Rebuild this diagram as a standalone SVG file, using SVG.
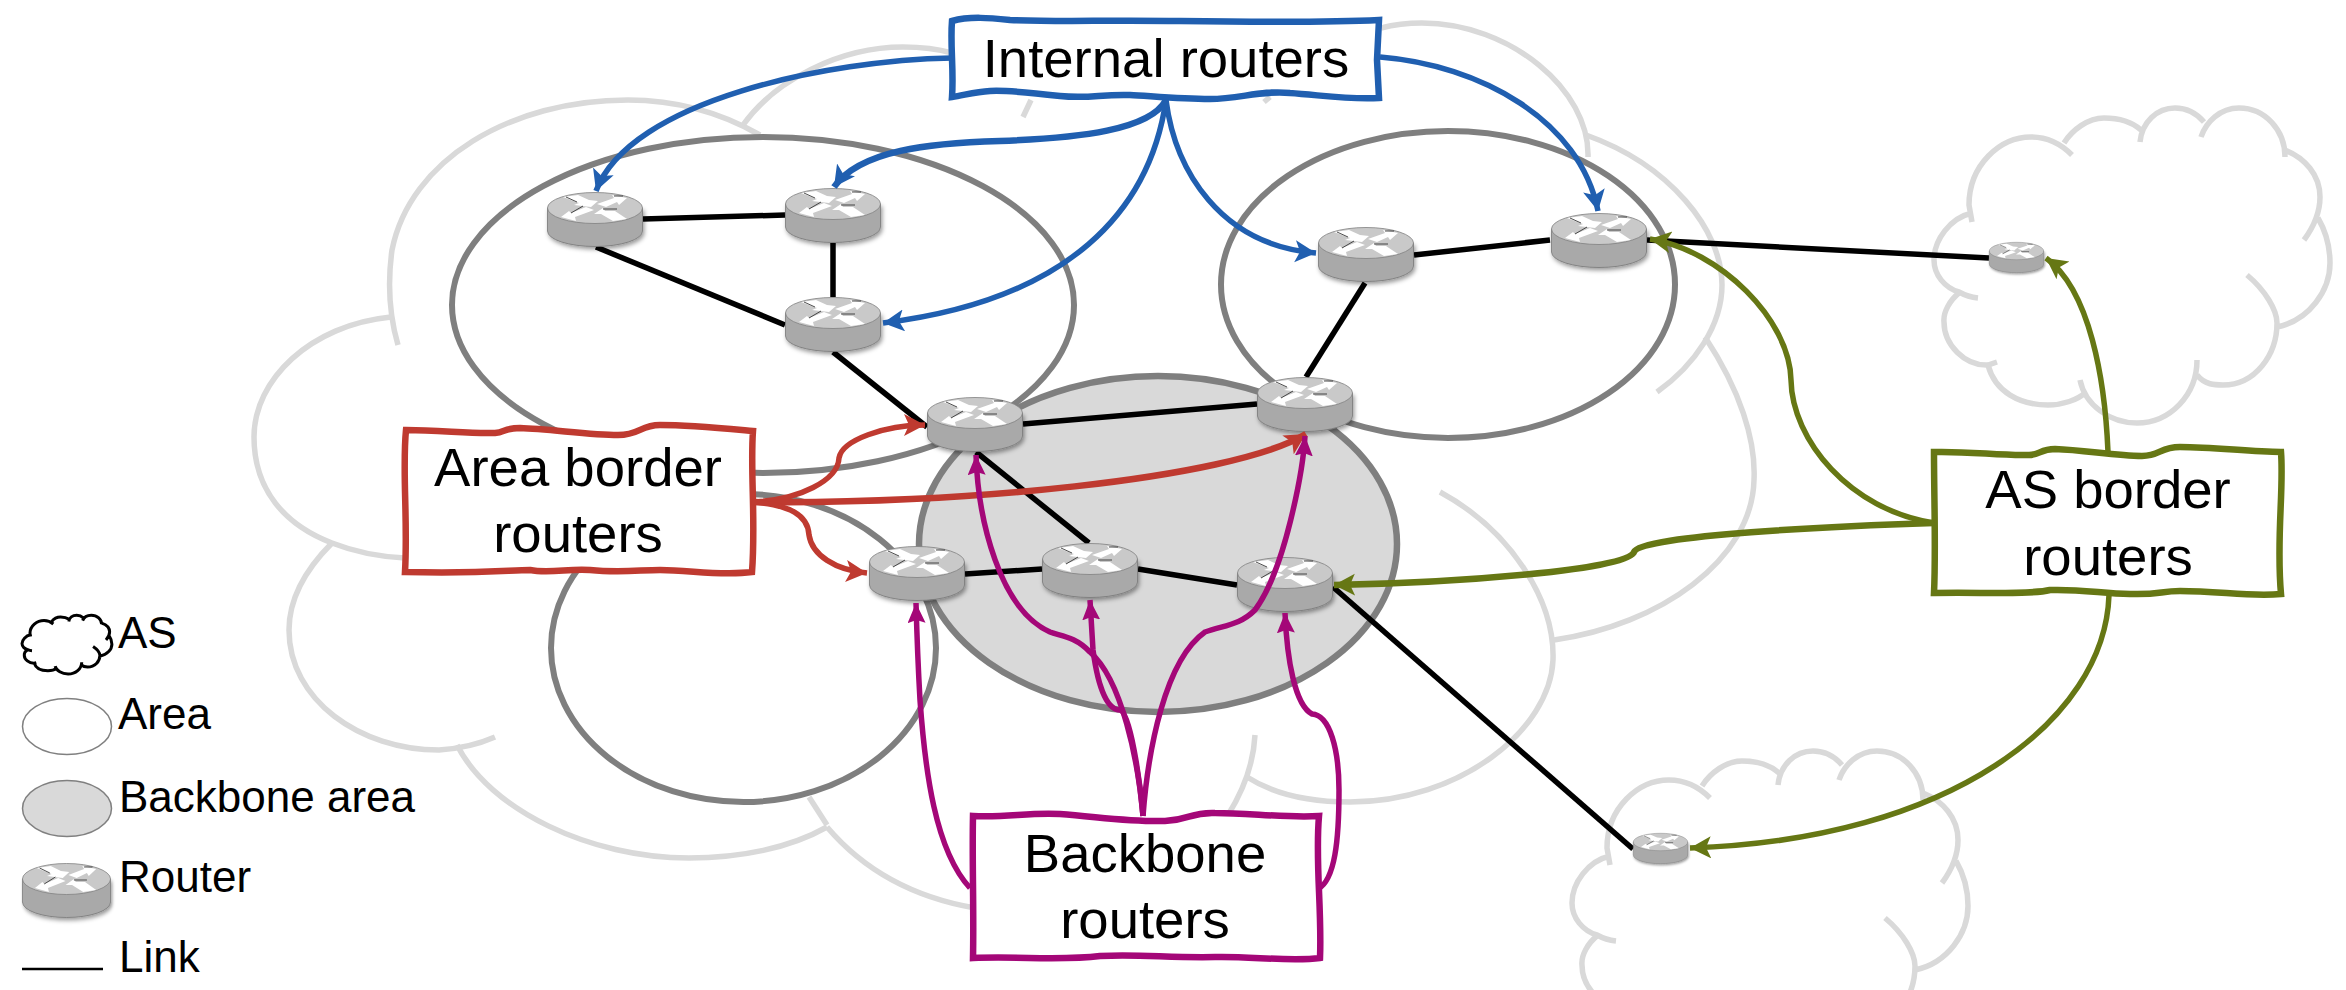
<svg xmlns="http://www.w3.org/2000/svg" width="2346" height="990" viewBox="0 0 2346 990">
<style>
text{font-family:"Liberation Sans",Arial,sans-serif;fill:#000}
.big{font-size:54.500px;text-anchor:middle}
.leg{font-size:44px}
.cl{fill:none;stroke:#d9d9d9;stroke-width:5.5}
.area{fill:none;stroke:#7f7f7f;stroke-width:6}
.bb{fill:#d9d9d9;stroke:#7f7f7f;stroke-width:6.5}
.lk{fill:none;stroke:#000;stroke-width:5.5;stroke-linecap:butt}
.box{fill:#fff;stroke-width:6.5;stroke-linejoin:miter}
.c{fill:none;stroke-width:5.5;stroke-linecap:butt}
.blue{stroke:#205fb0}.red{stroke:#bf3a30}.pur{stroke:#a40778}.oli{stroke:#667714}
</style>
<defs>
<filter id="sh" x="-15%" y="-15%" width="130%" height="140%"><feDropShadow dx="1.5" dy="2.5" stdDeviation="2" flood-color="#000" flood-opacity=".4"/></filter>
<marker id="mb" markerUnits="userSpaceOnUse" markerWidth="24" markerHeight="24" refX="21" refY="11" orient="auto"><path d="M0 0L21 11L0 22L5 11Z" fill="#205fb0"/></marker>
<marker id="mr" markerUnits="userSpaceOnUse" markerWidth="24" markerHeight="24" refX="21" refY="11" orient="auto"><path d="M0 0L21 11L0 22L5 11Z" fill="#bf3a30"/></marker>
<marker id="mp" markerUnits="userSpaceOnUse" markerWidth="24" markerHeight="24" refX="20" refY="9" orient="auto"><path d="M0 0L20 9L0 18L3 9Z" fill="#a40778"/></marker>
<marker id="mo" markerUnits="userSpaceOnUse" markerWidth="24" markerHeight="24" refX="21" refY="11" orient="auto"><path d="M0 0L21 11L0 22L5 11Z" fill="#667714"/></marker>
<symbol id="router" viewBox="0 0 96 55" preserveAspectRatio="none" overflow="visible">
<g filter="url(#sh)"><path d="M.5 16V39A47.5 15.5 0 0 0 95.5 39V16Z" fill="#a9a9a9" stroke="#777" stroke-width=".8"/></g>
<ellipse cx="48" cy="16" rx="47.5" ry="15.5" fill="#c9c9c9" stroke="#808080" stroke-width=".8"/>
<path d="M16 5L31 3L42 8L51 9L44 15L27 13L32 11ZM80 6L65 3L67 6L50 12L59 15L70 10L72 13ZM14 25L29 29L28 25L47 18L39 15L24 21L22 19ZM47 22L56 16L58 19L68 19L80 27L66 29L54 22Z" fill="#fff"/>
<path d="M19 5L30 10M67 4H76M24 21L36 14M56 17H70" fill="none" stroke="#222" stroke-width=".8"/>
</symbol>
<path id="cloud" vector-effect="non-scaling-stroke" d="M1972 213C1950 218 1934 240 1934 260C1934 275 1945 288 1959 292Q1968 297 1978 298M1960 292C1950 300 1943 312 1944 322C1944 345 1965 366 1988 365L1997 362M1988 365C1995 392 2020 405 2048 405C2062 405 2078 400 2086 392M2080 380C2085 405 2110 423 2137 423C2170 423 2197 395 2197 360M2197 375C2205 385 2215 385 2223 385C2255 385 2277 355 2277 323C2277 310 2265 290 2247 275M2277 327C2310 320 2330 290 2330 263C2330 245 2325 230 2318 218M2304 240C2315 225 2320 210 2320 197C2320 175 2305 158 2285 150M2285 157C2285 130 2265 108 2239 108C2220 108 2206 122 2201 137M2204 122C2198 115 2188 108 2175 108C2157 108 2142 122 2140 142M2141 130C2132 122 2118 118 2104 118C2088 118 2072 130 2064 143M2072 155C2060 143 2045 137 2031 137C2000 137 1969 165 1969 205L1972 222"/>
</defs>

<g id="as-main" class="cl">
<path d="M391 317C310 325 254 380 254 437C254 490 285 525 332 543Q365 556 405 558"/>
<path d="M398 345Q385 300 392 250C410 160 510 100 628 100C680 100 725 115 760 135"/>
<path d="M743 125C775 80 840 47 903 47C920 47 938 49 952 53"/>
<path d="M1023 117L1031 100M1264 102L1270 97"/>
<path d="M1381 28Q1400 23 1422 23C1510 23 1590 90 1588 157"/>
<path d="M1586 135C1670 165 1722 230 1722 285C1722 325 1695 365 1657 392"/>
<path d="M1705 337C1740 390 1756 440 1754 480C1752 560 1660 625 1554 640"/>
<path d="M1440 492C1510 530 1555 600 1553 660C1550 730 1460 802 1350 802C1310 802 1275 795 1247 777"/>
<path d="M1255 735Q1253 775 1228 815"/>
<path d="M809 797L827 825M827 827C855 860 900 895 975 908"/>
<path d="M457 745C490 810 590 858 689 858C740 858 790 848 827 827"/>
<path d="M495 737Q470 748 439 750C360 750 289 700 289 630C289 600 305 570 332 543"/>
</g>
<use id="as-right" href="#cloud" class="cl"/>
<use id="as-bottom" href="#cloud" class="cl" transform="translate(-362 643)"/>

<g id="area-1"><ellipse class="area" cx="763" cy="305" rx="311" ry="168"/></g>
<g id="area-2"><ellipse class="area" cx="1448" cy="284.500" rx="227" ry="153.500"/></g>
<g id="area-3"><ellipse class="area" cx="743.500" cy="648" rx="192.500" ry="154"/></g>
<g id="area-backbone"><ellipse class="bb" cx="1158" cy="544" rx="239" ry="168"/></g>

<g id="links" class="lk">
<path d="M643 219L785 215"/><path d="M596 247L785 325"/><path d="M833 243V297"/><path d="M833 352L927 427"/>
<path d="M1023 424L1257 404"/><path d="M1414 255L1550 240"/><path d="M1365 283L1306 377"/><path d="M1647 240L1989 258"/>
<path d="M976 452L1089 543"/><path d="M965 574L1042 569"/><path d="M1138 569L1237 585"/><path d="M1333 587L1633 849"/>
</g>

<g id="router-1"><use href="#router" x="547" y="192" width="96" height="55"/></g>
<g id="router-2"><use href="#router" x="785" y="188" width="96" height="55"/></g>
<g id="router-3"><use href="#router" x="785" y="297" width="96" height="55"/></g>
<g id="router-4"><use href="#router" x="927" y="397" width="96" height="55"/></g>
<g id="router-5"><use href="#router" x="1318" y="227" width="96" height="55"/></g>
<g id="router-6"><use href="#router" x="1551" y="213" width="96" height="55"/></g>
<g id="router-7"><use href="#router" x="1257" y="377" width="96" height="55"/></g>
<g id="router-8"><use href="#router" x="869" y="546" width="96" height="55"/></g>
<g id="router-9"><use href="#router" x="1042" y="543" width="96" height="55"/></g>
<g id="router-10"><use href="#router" x="1237" y="557" width="96" height="55"/></g>
<g id="router-11"><use href="#router" x="1989" y="242" width="55" height="31"/></g>
<g id="router-12"><use href="#router" x="1633" y="833" width="55" height="31"/></g>

<g id="box-internal"><path class="box blue" d="M952 21C970 16 990 18 1010 20C1060 22 1100 20 1180 21C1250 22 1320 23 1379 20L1377 60L1379 98C1350 100 1320 95 1290 93C1260 90 1240 99 1210 99C1180 99 1150 96 1130 95C1100 94 1090 99 1060 96C1035 93 1010 90 990 91C975 92 965 95 952 97C954 70 950 45 952 21Z"/><text class="big" x="1166" y="77">Internal routers</text></g>
<g id="box-area"><path class="box red" d="M406 430C440 430 470 434 495 433C505 432 505 428 520 428C550 429 590 435 618 435C640 435 640 425 660 425C690 425 720 428 753 431C750 470 756 520 752 572C720 576 690 570 660 570C640 570 620 573 590 570C570 568 550 574 530 570C510 570 480 574 405 572C408 520 402 470 406 430Z"/><text class="big" x="578" y="486">Area border</text><text class="big" x="578" y="552">routers</text></g>
<g id="box-backbone"><path class="box pur" d="M973 816C1005 818 1030 812 1060 814C1100 817 1130 822 1165 821C1190 820 1190 812 1215 813C1250 813 1285 818 1319 816C1315 860 1322 910 1320 958C1290 962 1250 956 1215 957C1170 958 1140 954 1100 956C1060 961 1020 956 973 958C974 910 972 860 973 816Z"/><text class="big" x="1145" y="872">Backbone</text><text class="big" x="1145" y="938">routers</text></g>
<g id="box-as"><path class="box oli" d="M1934 452C1970 451 2000 456 2029 455C2040 455 2040 449 2055 449C2085 450 2115 456 2142 456C2160 456 2160 447 2180 447C2215 447 2250 452 2281 452C2284 490 2276 540 2281 594C2250 597 2220 591 2180 591C2160 591 2160 595 2130 594C2100 593 2080 589 2050 590C2030 595 1980 592 1934 593C1936 550 1934 500 1934 452Z"/><text class="big" x="2108" y="508">AS border</text><text class="big" x="2108" y="575">routers</text></g>

<g id="connectors">
<g class="c blue">
<path marker-end="url(#mb)" d="M952 58C830 60 630 100 596 191"/>
<path marker-end="url(#mb)" stroke-width="6.500" d="M1166 100C1150 130 1080 138 1000 141C930 143 860 150 834 187"/>
<path marker-end="url(#mb)" d="M1166 100C1150 210 1070 300 883 323"/>
<path marker-end="url(#mb)" d="M1166 100C1175 170 1220 245 1316 253"/>
<path marker-end="url(#mb)" d="M1380 57C1480 65 1580 120 1598 211"/>
</g>
<g class="c red">
<path marker-end="url(#mr)" d="M752 502C800 500 838 480 839 458C842 440 885 425 925 425"/>
<path marker-end="url(#mr)" stroke-width="6.500" d="M752 502C950 505 1230 480 1306 434"/>
<path marker-end="url(#mr)" d="M752 502C790 505 808 515 809 535C812 555 835 570 867 573"/>
</g>
<g class="c pur">
<path marker-end="url(#mp)" d="M970 888C935 850 925 770 920 700C918 665 917 640 916 603"/>
<path marker-end="url(#mp)" d="M1143 816C1138 760 1122 680 1090 652C1075 636 1060 636 1050 632C1000 610 978 520 976 455"/>
<path marker-end="url(#mp)" d="M1143 816C1140 780 1130 712 1120 710C1105 710 1097 680 1093 650L1090 600"/>
<path marker-end="url(#mp)" d="M1143 816C1148 750 1165 660 1205 632C1225 625 1240 625 1255 610C1285 570 1303 470 1305 436"/>
<path marker-end="url(#mp)" d="M1318 889C1335 880 1339 840 1339 790C1339 750 1330 715 1312 714C1295 705 1287 660 1285 613"/>
</g>
<g class="c oli">
<path marker-end="url(#mo)" d="M1934 523C1850 510 1792 440 1791 380C1790 320 1720 250 1650 239"/>
<path marker-end="url(#mo)" stroke-width="6.500" d="M1934 523C1840 526 1640 535 1634 552C1630 570 1450 583 1334 585"/>
<path marker-end="url(#mo)" d="M2108 452C2105 380 2090 290 2046 258"/>
<path marker-end="url(#mo)" d="M2109 595C2105 720 1950 840 1690 848"/>
</g>
</g>

<g id="legend">
<g id="legend-as"><use href="#cloud" transform="translate(-417 595) scale(.227 .187)" fill="none" stroke="#000" stroke-width="3"/><text class="leg" x="118" y="648">AS</text></g>
<g id="legend-area"><ellipse cx="67" cy="726.500" rx="44.500" ry="28" fill="#fff" stroke="#808080" stroke-width="1.500"/><text class="leg" x="118" y="729">Area</text></g>
<g id="legend-backbone"><ellipse cx="67" cy="808.500" rx="44.500" ry="28" fill="#d9d9d9" stroke="#808080" stroke-width="1.500"/><text class="leg" x="119" y="812">Backbone area</text></g>
<g id="legend-router"><use href="#router" x="22" y="863" width="89" height="55"/><text class="leg" x="119" y="892">Router</text></g>
<g id="legend-link"><path d="M22 969H103" stroke="#000" stroke-width="2.500"/><text class="leg" x="119" y="972">Link</text></g>
</g>
</svg>
